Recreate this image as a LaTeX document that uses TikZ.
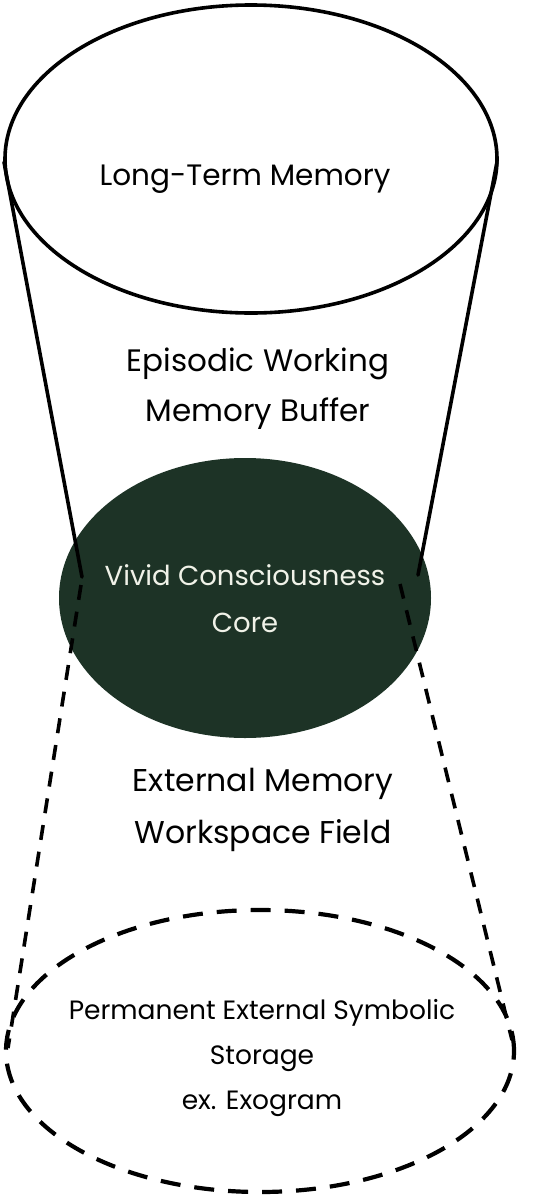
\documentclass[tikz,border=0pt]{standalone}
\usepackage{fontspec}
\setmainfont{Poppins}
\usetikzlibrary{shapes.geometric}
\definecolor{coregreen}{RGB}{29,51,38}
\definecolor{cream}{RGB}{240,242,232}
\tikzset{
  rim/.style={ellipse, draw=black, line width=3.6pt, inner sep=0pt},
  funnel/.style={line width=3.6pt, line cap=round},
  dfunnel/.style={line width=3.6pt, dash pattern=on 15pt off 12pt},
  lbl/.style={align=center, text=black, inner sep=0pt}
}
\begin{document}
\begin{tikzpicture}[x=1pt,y=-1pt]
\useasboundingbox (0,0) rectangle (536,1200);
% green core
\node[ellipse, fill=coregreen, minimum width=372pt, minimum height=280pt, inner sep=0pt] (core) at (245,598) {};
% top ellipse
\node[rim, minimum width=492pt, minimum height=308pt] (ltm) at (251,159) {};
% bottom dashed ellipse
\node[ellipse, draw=black, line width=4.2pt, dash pattern=on 20pt off 14pt, minimum width=508pt, minimum height=282pt, inner sep=0pt] (ext) at (260,1051) {};
% funnel coordinates
\coordinate (tl) at (4,162);
\coordinate (tr) at (497,162);
\coordinate (ml) at (82,577);
\coordinate (mr) at (418,575);
\coordinate (dl) at (81,585);
\coordinate (dr) at (400,584);
\coordinate (bl) at (8,1048);
\coordinate (br) at (512,1040);
\draw[funnel] (tl) -- (ml);
\draw[funnel] (tr) -- (mr);
\draw[dfunnel] (dl) -- (bl);
\draw[dfunnel] (dr) -- (br);
% texts
\node[lbl, font=\fontsize{29.5}{50}\selectfont] (t1) at (245,179) {Long-Term Memory};
\node[lbl, font=\fontsize{31}{50}\selectfont] (t2) at (258,389) {Episodic Working\\Memory Buffer};
\node[lbl, text=cream, font=\fontsize{27.5}{47}\selectfont] (t3) at (245,599) {Vivid Consciousness\\Core};
\node[lbl, font=\fontsize{31.5}{52}\selectfont] (t4) at (263,810) {External Memory\\Workspace Field};
\node[lbl, font=\fontsize{26.5}{45}\selectfont] (t5) at (262,1058) {Permanent External Symbolic\\Storage\\ex. Exogram};
\end{tikzpicture}
\end{document}
